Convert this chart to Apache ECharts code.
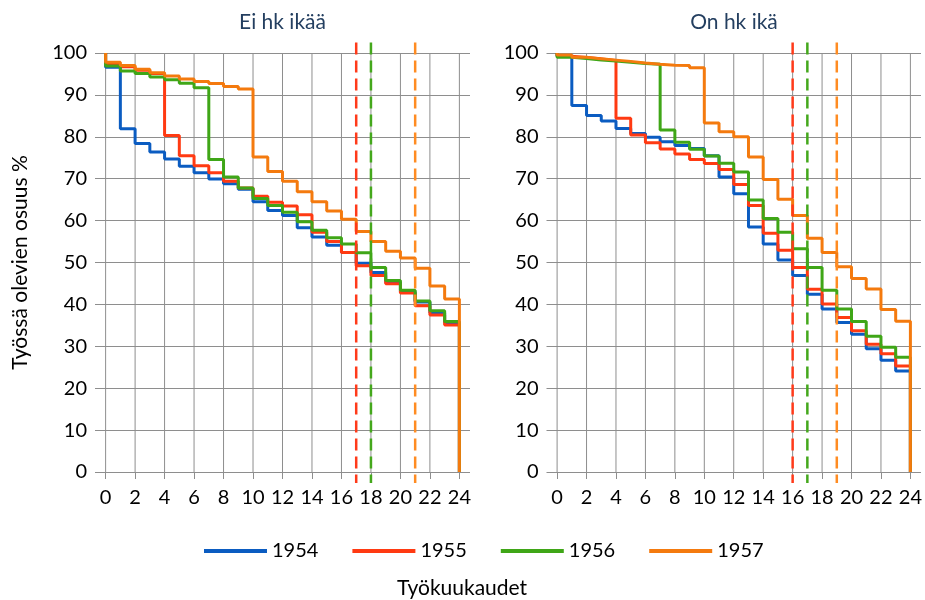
<!DOCTYPE html>
<html><head><meta charset="utf-8">
<script src="https://cdn.jsdelivr.net/npm/echarts@6/dist/echarts.min.js"></script>
<style>html,body{margin:0;padding:0;background:#fff}#c{width:925px;height:600px}</style>
</head><body><div id="c"></div>
<script>
// ---- data ----
const years = ['1954', '1955', '1956', '1957'];
const panelTitles = ['Ei hk ikää', 'On hk ikä'];
const xTicks = [0, 2, 4, 6, 8, 10, 12, 14, 16, 18, 20, 22, 24];
const startValue = 100;   // value at month 0 before the first step
const endValue = 0;       // value at month 24 (end of follow-up)

// level during month k..k+1 (k = 0..23), panel "Ei hk ikää"
const ei1954 = [96.6, 81.9, 78.4, 76.4, 74.7, 73.0, 71.4, 69.9, 68.8, 67.5, 64.5, 62.4, 61.2, 58.3, 56.1, 54.1, 52.4, 49.8, 47.6, 45.3, 43.0, 40.6, 38.0, 35.6];
const ei1955 = [97.3, 96.7, 95.9, 95.1, 80.3, 75.5, 73.1, 71.4, 69.4, 67.8, 65.8, 64.4, 63.5, 61.4, 57.2, 55.0, 52.4, 49.2, 46.9, 44.9, 42.7, 39.7, 37.5, 35.1];
const ei1956 = [96.9, 95.7, 95.1, 94.3, 93.6, 92.8, 91.7, 74.6, 70.4, 67.8, 65.3, 63.6, 62.0, 59.7, 57.7, 55.9, 54.4, 52.3, 48.8, 45.7, 43.4, 40.8, 38.5, 35.9];
const ei1957 = [97.8, 97.0, 96.1, 95.3, 94.5, 93.8, 93.2, 92.7, 92.0, 91.4, 75.2, 71.7, 69.4, 66.9, 64.5, 62.3, 60.3, 57.4, 55.0, 52.7, 51.1, 48.6, 44.4, 41.3];
// panel "On hk ikä"
const on1954 = [99.3, 87.5, 85.1, 83.8, 82.0, 80.8, 79.9, 78.8, 77.9, 77.2, 75.5, 70.4, 66.4, 58.5, 54.4, 50.6, 46.9, 42.4, 38.9, 35.7, 32.9, 29.4, 26.7, 24.1];
const on1955 = [99.2, 98.9, 98.6, 98.2, 84.4, 80.4, 78.6, 77.1, 75.9, 74.6, 73.6, 72.2, 68.6, 63.6, 57.0, 52.9, 48.8, 43.6, 40.1, 36.9, 33.7, 30.5, 28.2, 25.3];
const on1956 = [99.0, 98.7, 98.3, 98.1, 97.8, 97.5, 97.3, 81.6, 78.7, 77.0, 75.4, 73.7, 71.6, 64.9, 60.5, 57.2, 53.3, 48.8, 43.4, 38.9, 35.9, 32.4, 29.8, 27.4];
const on1957 = [99.5, 99.0, 98.6, 98.3, 98.0, 97.6, 97.3, 97.1, 97.0, 96.5, 83.3, 81.2, 80.0, 75.2, 69.8, 65.1, 61.2, 55.8, 52.4, 49.0, 46.2, 43.7, 38.8, 36.0];

// vertical dashed cut-off months (1955, 1956, 1957)
const eiCutoffs = [17, 18, 21];
const onCutoffs = [16, 17, 19];

// ---- styles ----
const lineColors = ['#0B5CC1', '#FF3A12', '#3FA617', '#F47A0E'];
const dashColors = ['#FF3A1A', '#44A81C', '#FF8C22'];
const gridColor = '#8E8E8E';
const FONT = 'Lato';

function stepData(values) {
  const d = [[0, startValue]];
  values.forEach((v, k) => d.push([k, v]));
  d.push([values.length, endValue]);
  return d;
}

const panels = [
  { series: [ei1954, ei1955, ei1956, ei1957], cut: eiCutoffs },
  { series: [on1954, on1955, on1956, on1957], cut: onCutoffs }
];
const gridLefts = [95, 546.5];
const gridW = 375;

const grids = [], xAxes = [], yAxes = [], series = [], graphics = [];
panels.forEach((p, i) => {
  grids.push({ left: gridLefts[i], top: 53, width: gridW, height: 419 });
  xAxes.push({
    type: 'value', gridIndex: i, min: -0.72, max: 24.72,
    axisLine: { show: false },
    splitLine: { show: false },
    axisTick: { show: true, customValues: xTicks, length: 7, lineStyle: { color: gridColor } },
    axisLabel: { customValues: xTicks, fontFamily: FONT, fontSize: 20, color: '#000', margin: 16 }
  });
  yAxes.push({
    type: 'value', gridIndex: i, min: 0, max: 100, interval: 10,
    axisLine: { show: false }, axisTick: { show: false },
    splitLine: { show: true, lineStyle: { color: gridColor, width: 1 } },
    axisLabel: { fontFamily: FONT, fontSize: 20, color: '#000', margin: 8 },
    name: i === 0 ? 'Työssä olevien osuus %' : '',
    nameLocation: 'middle', nameRotate: 90, nameGap: 64,
    nameTextStyle: { fontFamily: FONT, fontSize: 21, color: '#000' }
  });
  // vertical grid lines
  series.push({
    type: 'custom', xAxisIndex: i, yAxisIndex: i, z: 1, silent: true,
    data: xTicks.map(x => [x, 0]),
    renderItem: (params, api) => {
      const x = api.value(0);
      const a = api.coord([x, 100]), b = api.coord([x, 0]);
      return { type: 'line', shape: { x1: a[0], y1: a[1], x2: b[0], y2: b[1] }, style: { stroke: gridColor, lineWidth: 1 } };
    }
  });
  p.series.forEach((vals, s) => {
    series.push({
      name: years[s], type: 'line', xAxisIndex: i, yAxisIndex: i, z: 3,
      step: 'end', showSymbol: false, symbol: 'none',
      lineStyle: { color: lineColors[s], width: 3 }, itemStyle: { color: lineColors[s] },
      data: stepData(vals)
    });
  });
  // dashed cut-off lines
  series.push({
    type: 'custom', xAxisIndex: i, yAxisIndex: i, z: 5, silent: true, clip: false,
    data: p.cut.map((x, k) => ({ value: [x, 0], itemStyle: { color: dashColors[k] } })),
    renderItem: (params, api) => {
      const x = api.value(0);
      const a = api.coord([x, 102.5]), b = api.coord([x, -2.6]);
      return { type: 'line', shape: { x1: a[0], y1: a[1], x2: b[0], y2: b[1] },
        style: { stroke: api.visual('color'), lineWidth: 2.5, lineDash: [12, 6] } };
    }
  });
  graphics.push({
    type: 'text', x: gridLefts[i] + gridW / 2, y: 12,
    style: { text: panelTitles[i], fontFamily: FONT, fontSize: 21, fill: '#243F60', textAlign: 'center' }
  });
});
graphics.push({
  type: 'text', x: 462, y: 578,
  style: { text: 'Työkuukaudet', fontFamily: FONT, fontSize: 21, fill: '#000', textAlign: 'center' }
});

const chart = echarts.init(document.getElementById('c'), null, { renderer: 'canvas' });
chart.setOption({
  animation: false,
  backgroundColor: '#fff',
  grid: grids, xAxis: xAxes, yAxis: yAxes, series: series,
  legend: {
    data: years, left: 199, top: 536, icon: 'rect', itemWidth: 63, itemHeight: 4, itemGap: 34,
    textStyle: { fontFamily: FONT, fontSize: 20, color: '#000' }
  },
  graphic: graphics
});
</script></body></html>
